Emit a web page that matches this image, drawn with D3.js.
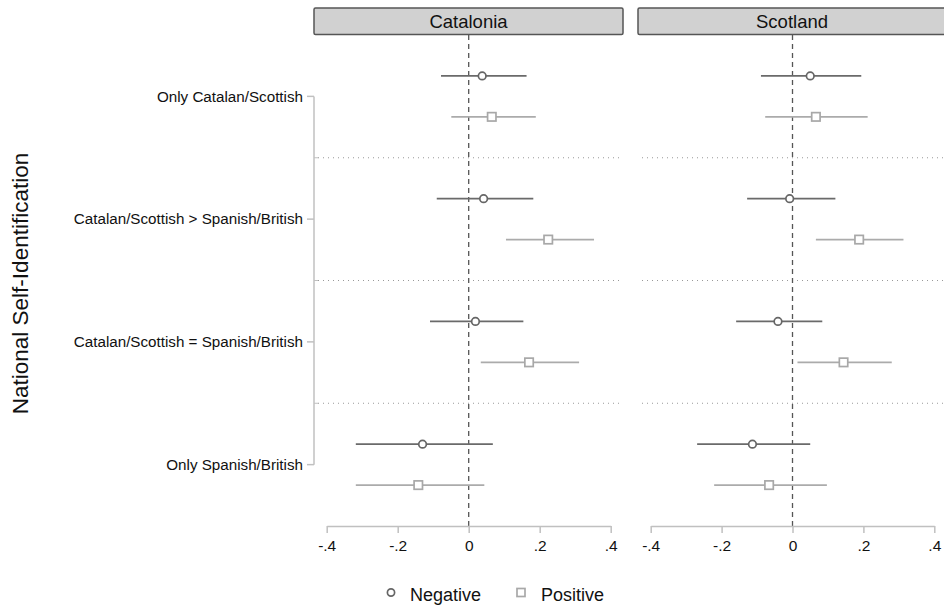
<!DOCTYPE html>
<html><head><meta charset="utf-8">
<script src="https://cdn.jsdelivr.net/npm/d3@7"></script>
<style>body{margin:0;background:#fff}svg{display:block;font-family:"Liberation Sans",Arial,sans-serif}</style>
</head><body><svg id="c" width="944" height="610"></svg>
<script>
const categories = ["Only Catalan/Scottish","Catalan/Scottish > Spanish/British","Catalan/Scottish = Spanish/British","Only Spanish/British"];
const panels = ["Catalonia","Scotland"];
const seriesNames = ["Negative","Positive"];
const xTicks = [-0.4,-0.2,0,0.2,0.4];
const xTickLabels = ["-.4","-.2","0",".2",".4"];
// estimates [point, lower, upper] by category
const catNeg = [[0.038,-0.078,0.163],[0.042,-0.090,0.182],[0.019,-0.109,0.154],[-0.130,-0.318,0.068]];
const catPos = [[0.065,-0.049,0.189],[0.224,0.105,0.353],[0.170,0.034,0.311],[-0.142,-0.318,0.044]];
const scoNeg = [[0.050,-0.089,0.194],[-0.008,-0.128,0.121],[-0.041,-0.159,0.084],[-0.113,-0.269,0.050]];
const scoPos = [[0.066,-0.077,0.212],[0.188,0.066,0.313],[0.144,0.014,0.280],[-0.066,-0.221,0.097]];
const panelData = [[catNeg,catPos],[scoNeg,scoPos]];

const svg = d3.select("#c");
const y = d3.scaleLinear().domain([0.5,4.5]).range([35,526]);
const off = [-1/6, 1/6];
const colors = ["#6a6a6a","#ababab"];
const panelX = [[326.7,610.7],[650.7,934.3]];
const panelBox = [[314,623],[638,960]];

// y axis
const yAxisG = svg.append("g").attr("transform","translate(314,0)");
yAxisG.append("line").attr("x1",0).attr("x2",0).attr("y1",y(1)).attr("y2",y(4)).attr("stroke","#c0c0c0").attr("stroke-width",1.5);
categories.forEach((c,i)=>{
  yAxisG.append("line").attr("x1",-7).attr("x2",0).attr("y1",y(i+1)).attr("y2",y(i+1)).attr("stroke","#c0c0c0").attr("stroke-width",1.5);
  yAxisG.append("text").attr("x",-11).attr("y",y(i+1)).attr("dy","0.35em").attr("text-anchor","end").attr("font-size",15.2).attr("fill","#111").text(c);
});
[1.5,2.5,3.5].forEach(v=>{
  yAxisG.append("line").attr("x1",0).attr("x2",4).attr("y1",y(v)).attr("y2",y(v)).attr("stroke","#c0c0c0").attr("stroke-width",1);
});
svg.append("text").attr("transform",`translate(28,${y(2.5)+3}) rotate(-90)`).attr("text-anchor","middle").attr("font-size",22.5).attr("fill","#111").text("National Self-Identification");

panels.forEach((p,pi)=>{
  const x = d3.scaleLinear().domain([-0.4,0.4]).range(panelX[pi]);
  const g = svg.append("g");
  // header
  g.append("rect").attr("x",panelBox[pi][0]).attr("y",8).attr("width",panelBox[pi][1]-panelBox[pi][0]).attr("height",26.5).attr("rx",1.5)
    .attr("fill","#d1d1d1").attr("stroke","#555").attr("stroke-width",1.5);
  g.append("text").attr("x",(panelBox[pi][0]+Math.min(panelBox[pi][1],944))/2 + (pi? 1:0)).attr("y",28).attr("text-anchor","middle").attr("font-size",18.5).attr("fill","#111").text(p);
  // dotted separators
  [1.5,2.5,3.5].forEach(v=>{
    g.append("line").attr("x1",panelBox[pi][0]+4).attr("x2",Math.min(panelBox[pi][1]-3,944)).attr("y1",y(v)).attr("y2",y(v))
      .attr("stroke","#999").attr("stroke-width",1).attr("stroke-dasharray","1,4");
  });
  // zero line
  g.append("line").attr("x1",x(0)).attr("x2",x(0)).attr("y1",35).attr("y2",526).attr("stroke","#555").attr("stroke-width",1.3).attr("stroke-dasharray","5,4");
  // x axis
  const ax = d3.axisBottom(x).tickValues(xTicks).tickFormat((d,i)=>xTickLabels[i]).tickSize(7).tickSizeOuter(0);
  const axG = g.append("g").attr("transform","translate(0,526)").call(ax);
  axG.attr("font-size",null).attr("font-family",null);
  axG.select(".domain").attr("stroke","#c0c0c0").attr("stroke-width",1.5);
  axG.selectAll(".tick line").attr("stroke","#c0c0c0").attr("stroke-width",1.5).attr("y1",0);
  axG.selectAll(".tick text").attr("font-size",15.5).attr("fill","#111").attr("y",11).attr("dy","0.9em");
  // series
  panelData[pi].forEach((ser,si)=>{
    const sg = g.append("g");
    sg.selectAll("line.ci").data(ser).enter().append("line")
      .attr("x1",d=>x(d[1])).attr("x2",d=>x(d[2]))
      .attr("y1",(d,i)=>y(i+1+off[si])).attr("y2",(d,i)=>y(i+1+off[si]))
      .attr("stroke",colors[si]).attr("stroke-width",1.8);
    if(si===0){
      sg.selectAll("circle").data(ser).enter().append("circle")
        .attr("cx",d=>x(d[0])).attr("cy",(d,i)=>y(i+1+off[si])).attr("r",3.8)
        .attr("fill","#fff").attr("stroke","#666").attr("stroke-width",1.7);
    } else {
      sg.selectAll("rect").data(ser).enter().append("rect")
        .attr("x",d=>x(d[0])-4.2).attr("y",(d,i)=>y(i+1+off[si])-4.2).attr("width",8.4).attr("height",8.4)
        .attr("fill","#fff").attr("stroke","#a8a8a8").attr("stroke-width",1.7);
    }
  });
});

// legend
const lg = svg.append("g");
lg.append("circle").attr("cx",391).attr("cy",592.5).attr("r",3.6).attr("fill","#fff").attr("stroke","#666").attr("stroke-width",1.7);
lg.append("text").attr("x",410).attr("y",600.5).attr("font-size",18).attr("fill","#111").text(seriesNames[0]);
lg.append("rect").attr("x",517).attr("y",588.5).attr("width",8).attr("height",8).attr("fill","#fff").attr("stroke","#a8a8a8").attr("stroke-width",1.7);
lg.append("text").attr("x",541).attr("y",600.5).attr("font-size",18).attr("fill","#111").text(seriesNames[1]);
</script></body></html>
